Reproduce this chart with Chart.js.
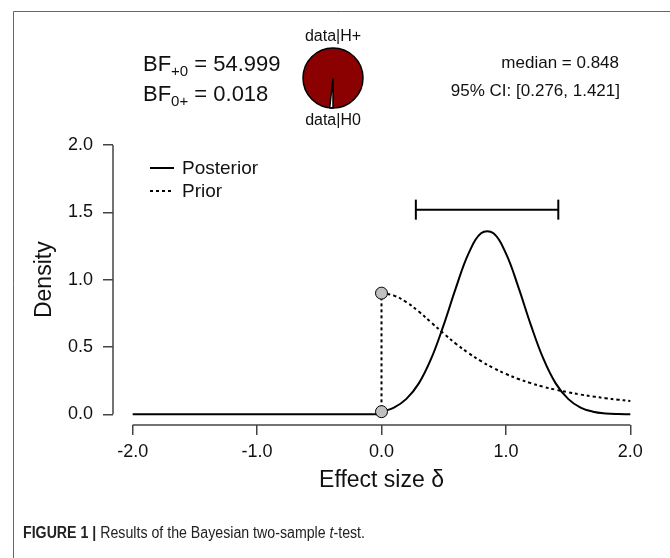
<!DOCTYPE html>
<html>
<head>
<meta charset="utf-8">
<script src="https://cdn.jsdelivr.net/npm/chart.js@4.4.1/dist/chart.umd.min.js"></script>
<style>
  html, body { margin: 0; padding: 0; background: #fff; }
  #wrap { width: 670px; height: 558px; }
</style>
</head>
<body>
<div id="wrap"><canvas id="bfChart"></canvas></div>
<script>
// Values
const deltaNeg = [-2, 0];
const densityNeg = [0, 0];
const deltaPos = [0.0, 0.1, 0.2, 0.3, 0.4, 0.5, 0.6, 0.7, 0.8, 0.9, 1.0,
                  1.1, 1.2, 1.3, 1.4, 1.5, 1.6, 1.7, 1.8, 1.9, 2.0];
const posteriorDensity = [0.02, 0.05, 0.115, 0.23, 0.415, 0.665, 0.945, 1.195, 1.345, 1.345, 1.195,
                          0.945, 0.665, 0.415, 0.23, 0.115, 0.05, 0.02, 0.007, 0.002, 0.001];
const priorDensity = [0.9, 0.882, 0.833, 0.763, 0.682, 0.6, 0.523, 0.455, 0.395, 0.344, 0.3,
                      0.263, 0.232, 0.205, 0.183, 0.164, 0.147, 0.133, 0.12, 0.109, 0.1];
const zeroDensity = [0.9, 0.02];       // prior, posterior at delta = 0
const ciBounds = [0.276, 1.421];
const ciHeight = [1.52, 1.52];
const bayesFactors = [54.999, 0.018];  // BF+0, BF0+
const posteriorMedian = 0.848;
const xTicks = [-2, -1, 0, 1, 2];
const yTicks = [0, 0.5, 1, 1.5, 2];

const FONT = "'Liberation Sans', Arial, Helvetica, sans-serif";

const pts = (xs, ys) => xs.map((x, i) => ({ x: x, y: ys[i] }));

// axis lines, legend, annotations, pie and frame
const decor = {
  id: 'decor',
  afterDraw(chart) {
    const ctx = chart.ctx;
    const xs = chart.scales.x, ys = chart.scales.y;
    const area = chart.chartArea;
    ctx.save();

    // detached R-style axis lines
    ctx.strokeStyle = '#444';
    ctx.lineWidth = 1.5;
    ctx.beginPath();
    ctx.moveTo(xs.getPixelForValue(xTicks[0]), area.bottom);
    ctx.lineTo(xs.getPixelForValue(xTicks[xTicks.length - 1]), area.bottom);
    ctx.moveTo(area.left, ys.getPixelForValue(yTicks[0]));
    ctx.lineTo(area.left, ys.getPixelForValue(yTicks[yTicks.length - 1]));
    ctx.stroke();

    // axis titles
    ctx.fillStyle = '#111';
    ctx.font = '23px ' + FONT;
    ctx.textAlign = 'center';
    ctx.textBaseline = 'middle';
    ctx.fillText('Effect size \u03b4', xs.getPixelForValue(0), 481);
    ctx.save();
    ctx.translate(45, (ys.getPixelForValue(0) + ys.getPixelForValue(2)) / 2);
    ctx.rotate(-Math.PI / 2);
    ctx.fillText('Density', 0, 0);
    ctx.restore();

    // legend
    ctx.strokeStyle = '#000';
    ctx.lineWidth = 2;
    ctx.beginPath();
    ctx.moveTo(150, 168); ctx.lineTo(174, 168);
    ctx.stroke();
    ctx.setLineDash([3, 3]);
    ctx.beginPath();
    ctx.moveTo(150, 191); ctx.lineTo(174, 191);
    ctx.stroke();
    ctx.setLineDash([]);
    ctx.font = '19px ' + FONT;
    ctx.textAlign = 'left';
    ctx.fillText('Posterior', 182, 169);
    ctx.fillText('Prior', 182, 192);

    // Bayes factors with subscripts
    ctx.textBaseline = 'alphabetic';
    const bfLine = (sub, val, y) => {
      let x = 143;
      ctx.font = '22px ' + FONT;
      ctx.fillText('BF', x, y);
      x += ctx.measureText('BF').width;
      ctx.font = '15px ' + FONT;
      ctx.fillText(sub, x, y + 5);
      x += ctx.measureText(sub).width;
      ctx.font = '22px ' + FONT;
      ctx.fillText(' = ' + val, x, y);
    };
    bfLine('+0', bayesFactors[0].toFixed(3), 71);
    bfLine('0+', bayesFactors[1].toFixed(3), 101);

    // pie of data|H+ vs data|H0
    const cx = 333, cy = 78, r = 30;
    const pH0 = bayesFactors[1] / (1 + bayesFactors[1]);
    ctx.fillStyle = '#8b0000';
    ctx.beginPath();
    ctx.arc(cx, cy, r, 0, Math.PI * 2);
    ctx.fill();
    ctx.fillStyle = '#fff';
    ctx.beginPath();
    ctx.moveTo(cx, cy);
    ctx.arc(cx, cy, r, Math.PI / 2, Math.PI / 2 + pH0 * Math.PI * 2);
    ctx.closePath();
    ctx.fill();
    ctx.strokeStyle = '#000';
    ctx.lineWidth = 1.5;
    ctx.stroke();
    ctx.beginPath();
    ctx.arc(cx, cy, r, 0, Math.PI * 2);
    ctx.stroke();
    ctx.fillStyle = '#111';
    ctx.font = '16px ' + FONT;
    ctx.textAlign = 'center';
    ctx.fillText('data|H+', cx, 41);
    ctx.fillText('data|H0', cx, 125);

    // median and CI
    ctx.font = '17px ' + FONT;
    ctx.textAlign = 'right';
    ctx.fillText('median = ' + posteriorMedian.toFixed(3), 619, 68);
    ctx.fillText('95% CI: [' + ciBounds[0].toFixed(3) + ', ' + ciBounds[1].toFixed(3) + ']', 620, 96);

    // figure frame
    ctx.strokeStyle = '#666';
    ctx.lineWidth = 1;
    ctx.beginPath();
    ctx.moveTo(13.5, 558); ctx.lineTo(13.5, 11.5); ctx.lineTo(670, 11.5);
    ctx.stroke();

    // caption, squeezed to the narrow journal font width
    ctx.textAlign = 'left';
    ctx.fillStyle = '#222';
    const parts = [['bold 16px ', 'FIGURE 1 | '], ['16px ', 'Results of the Bayesian two-sample '],
                   ['italic 16px ', 't'], ['16px ', '-test.']];
    let total = 0;
    parts.forEach(p => { ctx.font = p[0] + FONT; total += ctx.measureText(p[1]).width; });
    const sx = 342 / total;
    ctx.save();
    ctx.translate(23, 538);
    ctx.scale(sx, 1);
    let px = 0;
    parts.forEach(p => { ctx.font = p[0] + FONT; ctx.fillText(p[1], px, 0); px += ctx.measureText(p[1]).width; });
    ctx.restore();

    ctx.restore();
  }
};

const tickFont = { family: FONT, size: 18 };

new Chart(document.getElementById('bfChart'), {
  type: 'line',
  data: {
    datasets: [
      { label: 'Posterior', data: pts(deltaPos, posteriorDensity), borderColor: '#000',
        borderWidth: 2, pointRadius: 0, tension: 0.4, fill: false },
      { label: 'Prior', data: pts(deltaPos, priorDensity), borderColor: '#000',
        borderWidth: 2, borderDash: [3, 3], pointRadius: 0, tension: 0.4, fill: false },
      { label: 'zero', data: pts(deltaNeg, densityNeg), borderColor: '#000',
        borderWidth: 2, pointRadius: 0, tension: 0 },
      { label: 'jump', data: [{ x: 0, y: 0 }, { x: 0, y: zeroDensity[0] }], borderColor: '#000',
        borderWidth: 2, borderDash: [3, 3], pointRadius: 0, tension: 0 },
      { label: 'CI', data: pts(ciBounds, ciHeight), borderColor: '#000', borderWidth: 2,
        pointStyle: 'line', rotation: 90, pointRadius: 10, pointBorderWidth: 2, tension: 0 },
      { type: 'scatter', label: 'atZero', order: -1, data: zeroDensity.map(d => ({ x: 0, y: d })),
        showLine: false, pointRadius: 6, backgroundColor: '#c0c0c0',
        borderColor: '#000', borderWidth: 1 }
    ]
  },
  options: {
    responsive: true,
    maintainAspectRatio: false,
    animation: false,
    layout: { padding: { top: 145, right: 20, left: 0, bottom: 0 } },
    plugins: { legend: { display: false }, tooltip: { enabled: false } },
    scales: {
      x: {
        type: 'linear', min: -2.158, max: 2.158,
        afterBuildTicks: s => { s.ticks = xTicks.map(v => ({ value: v })); },
        afterFit: s => { s.height = 133; },
        grid: { drawOnChartArea: false, drawTicks: true, tickLength: 10, color: '#444', lineWidth: 1.5 },
        border: { display: false },
        ticks: { font: tickFont, color: '#111', padding: 6, maxRotation: 0, autoSkip: false,
                 callback: v => v.toFixed(1) }
      },
      y: {
        type: 'linear', min: -0.079, max: 2,
        afterBuildTicks: s => { s.ticks = yTicks.map(v => ({ value: v })); },
        afterFit: s => { s.width = 113; },
        grid: { drawOnChartArea: false, drawTicks: true, tickLength: 10, color: '#444', lineWidth: 1.5 },
        border: { display: false },
        ticks: { font: tickFont, color: '#111', padding: 10, autoSkip: false,
                 callback: v => v.toFixed(1) }
      }
    }
  },
  plugins: [decor]
});
</script>
</body>
</html>
